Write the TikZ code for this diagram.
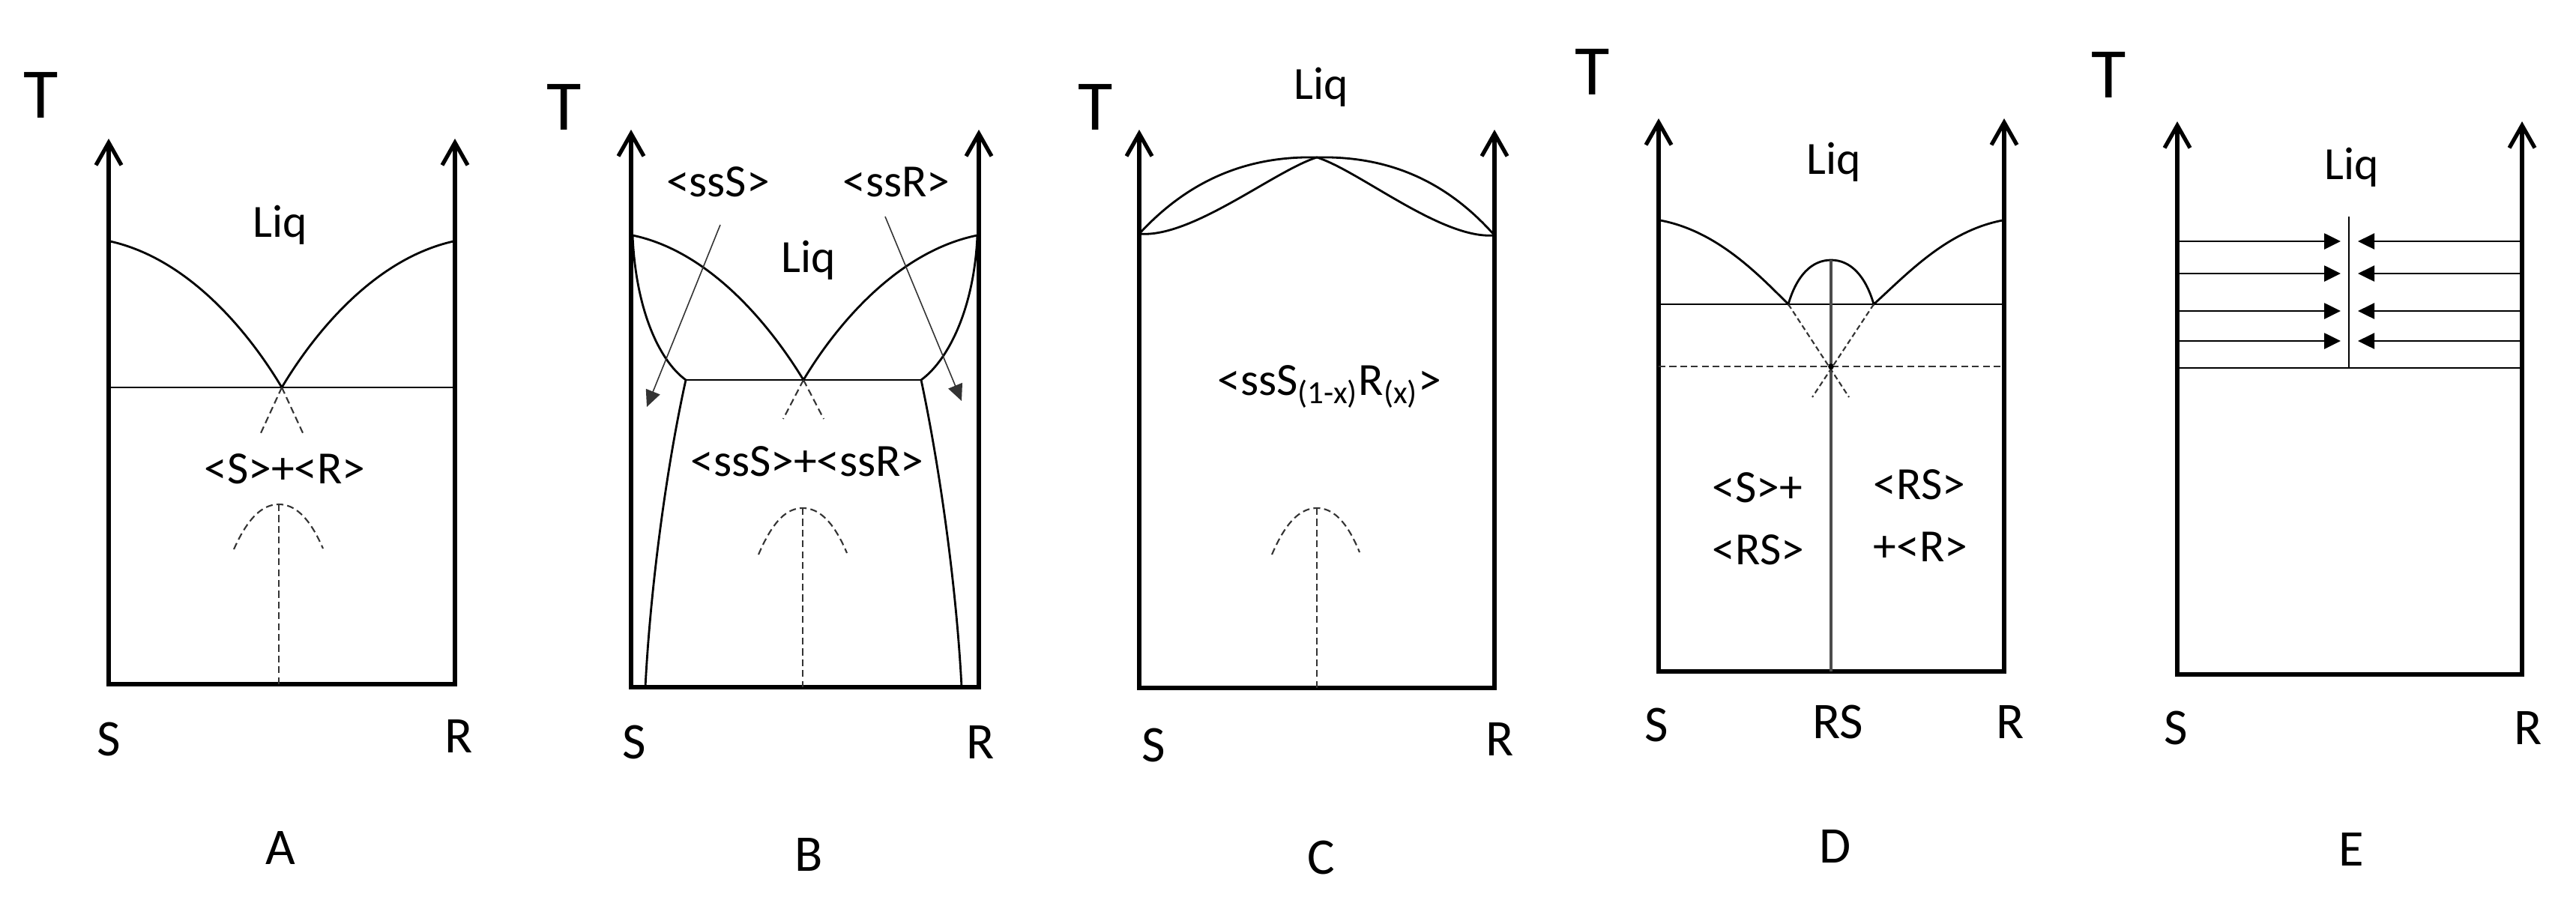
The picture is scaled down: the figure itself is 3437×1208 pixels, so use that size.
\documentclass[tikz,border=0pt]{standalone}
\usepackage{fontspec}
\setmainfont{Carlito}
\usetikzlibrary{arrows.meta}
\tikzset{
  axis/.style={line width=1.5pt, line join=miter, {Straight Barb[length=3mm,width=3.4mm]}-{Straight Barb[length=3mm,width=3.4mm]}},
  curve/.style={line width=0.8pt},
  thinline/.style={line width=0.7pt},
  dashline/.style={line width=0.6pt, black!80, dash pattern=on 2.6pt off 1.5pt},
  ptrarrow/.style={-{Triangle[length=2.2mm,width=2mm]}, line width=0.45pt, black!80},
  flowarrow/.style={-{Triangle[length=2.2mm,width=2.1mm]}, line width=0.75pt},
  tlbl/.style={inner sep=0, font=\fontsize{27}{32}\selectfont},
  axlbl/.style={inner sep=0, font=\fontsize{19.5}{23}\selectfont},
  phase/.style={inner sep=0, font=\fontsize{17.5}{23.5}\selectfont},
  dot/.style={circle, fill=black, inner sep=0, minimum size=2.2pt}
}

\begin{document}
\begin{tikzpicture}[x=0.01cm, y=-0.01cm]
  \useasboundingbox (0,0) rectangle (3437,1208);

  % A: simple eutectic
  \coordinate (aTL) at (145,185);
  \coordinate (aBL) at (145,913);
  \coordinate (aBR) at (607,913);
  \coordinate (aTR) at (607,185);
  \coordinate (aEu) at (376,517);
  \coordinate (aAr) at (372,673);
  \draw[axis] (aTL) -- (aBL) -- (aBR) -- (aTR);
  \draw[thinline] (aBL |- aEu) -- (aBR |- aEu);
  \draw[curve] (147,322) .. controls (250,345) and (330,440) .. (aEu) .. controls (422,440) and (502,345) .. (605,322);
  \draw[dashline] (aEu) -- (347,580) (aEu) -- (406,582);
  \draw[dashline] (312,733) .. controls (332,688) and (352,673) .. (aAr) .. controls (392,673) and (412,688) .. (431,732);
  \draw[dashline] (aAr) -- (aAr |- aBL);
  \node[tlbl] (aT) at (55,127) {T};
  \node[phase] (aLiq) at (374,300) {Liq};
  \node[phase] (aMix) at (380,626) {<S>+<R>};
  \node[axlbl] (aS) at (145,986) {S};
  \node[axlbl] (aR) at (612,982) {R};
  \node[axlbl] (aName) at (374,1131) {A};

  % B: eutectic with terminal solid solutions
  \coordinate (bTL) at (842,173);
  \coordinate (bBL) at (842,917);
  \coordinate (bBR) at (1306,917);
  \coordinate (bTR) at (1306,173);
  \coordinate (bEu) at (1072,507);
  \coordinate (bSl) at (915,507);
  \coordinate (bSr) at (1229,507);
  \coordinate (bML) at (844,314);
  \coordinate (bMR) at (1304,314);
  \coordinate (bAr) at (1071,678);
  \draw[axis] (bTL) -- (bBL) -- (bBR) -- (bTR);
  \draw[thinline] (bSl) -- (bSr);
  \draw[curve] (bML) .. controls (945,335) and (1025,430) .. (bEu) .. controls (1118,430) and (1200,335) .. (bMR);
  \draw[curve] (bML) .. controls (848,410) and (878,480) .. (bSl) .. controls (890,620) and (868,780) .. (861,917);
  \draw[curve] (bMR) .. controls (1300,410) and (1266,480) .. (bSr) .. controls (1253,620) and (1276,780) .. (1283,917);
  \draw[dashline] (bEu) -- (1045,559) (bEu) -- (1099,559);
  \draw[dashline] (1012,740) .. controls (1032,693) and (1051,678) .. (bAr) .. controls (1091,678) and (1111,693) .. (1130,738);
  \draw[dashline] (bAr) -- (bAr |- bBL);
  \node[tlbl] (bT) at (753,143) {T};
  \node[phase] (bssS) at (958,243) {<ssS>};
  \node[phase] (bssR) at (1196,243) {<ssR>};
  \node[phase] (bLiq) at (1079,347) {Liq};
  \node[phase] (bMix) at (1077,616) {<ssS>+<ssR>};
  \draw[ptrarrow] (961,300) -- (863,543);
  \draw[ptrarrow] (1181,289) -- (1283,535);
  \node[axlbl] (bS) at (846,990) {S};
  \node[axlbl] (bR) at (1308,990) {R};
  \node[axlbl] (bName) at (1079,1140) {B};

  % C: complete solid solution
  \coordinate (cTL) at (1520,173);
  \coordinate (cBL) at (1520,918);
  \coordinate (cBR) at (1994,918);
  \coordinate (cTR) at (1994,173);
  \coordinate (cML) at (1520,312);
  \coordinate (cMR) at (1994,314);
  \coordinate (cTop) at (1757,210);
  \coordinate (cAr) at (1757,678);
  \draw[axis] (cTL) -- (cBL) -- (cBR) -- (cTR);
  \draw[curve] (cML) .. controls (1590,236) and (1670,208) .. (cTop) .. controls (1845,208) and (1925,236) .. (cMR);
  \draw[curve] (cML) .. controls (1590,318) and (1700,228) .. (cTop) .. controls (1814,228) and (1924,320) .. (cMR);
  \draw[dashline] (1697,740) .. controls (1717,693) and (1737,678) .. (cAr) .. controls (1777,678) and (1796,693) .. (1814,737);
  \draw[dashline] (cAr) -- (cAr |- cBL);
  \node[tlbl] (cT) at (1462,143) {T};
  \node[phase] (cLiq) at (1763,116) {Liq};
  \node[phase] (cSol) at (1774,516) {<ssS\textsubscript{(1-x)}R\textsubscript{(x)}>};
  \node[axlbl] (cS) at (1539,994) {S};
  \node[axlbl] (cR) at (2001,986) {R};
  \node[axlbl] (cName) at (1763,1144) {C};

  % D: racemic compound
  \coordinate (dTL) at (2213,158);
  \coordinate (dBL) at (2213,896);
  \coordinate (dBR) at (2674,896);
  \coordinate (dTR) at (2674,158);
  \coordinate (dML) at (2215,294);
  \coordinate (dMR) at (2672,294);
  \coordinate (dL) at (2386,406);
  \coordinate (dR) at (2500,406);
  \coordinate (dTop) at (2443,347);
  \draw[axis] (dTL) -- (dBL) -- (dBR) -- (dTR);
  \draw[thinline] (dBL |- dL) -- (dBR |- dL);
  \draw[dashline] (dBL |- 0,489) -- (dBR |- 0,489);
  \draw[curve] (dML) .. controls (2290,308) and (2345,365) .. (dL) .. controls (2397,368) and (2417,347) .. (dTop) .. controls (2469,347) and (2489,368) .. (dR) .. controls (2545,365) and (2598,308) .. (dMR);
  \draw[line width=1pt, black!70] (dTop) -- (dTop |- dBL);
  \draw[dashline, dash pattern=on 2pt off 1.2pt] (dL) -- (2467,530) (dR) -- (2418,530);
  \node[dot] (dX) at (2443,489) {};
  \node[tlbl] (dT) at (2125,96) {T};
  \node[phase] (dLiq) at (2447,216) {Liq};
  \node[phase, align=left, anchor=west] (dLeft) at (2284,692) {<S>+\\<RS>};
  \node[phase, align=left, anchor=west] (dRight) at (2499,688) {<RS>\\+<R>};
  \node[axlbl] (dS) at (2210,967) {S};
  \node[axlbl] (dRS) at (2452,963) {RS};
  \node[axlbl] (dR2) at (2682,963) {R};
  \node[axlbl] (dName) at (2449,1129) {D};

  % E
  \coordinate (eTL) at (2905,162);
  \coordinate (eBL) at (2905,900);
  \coordinate (eBR) at (3365,900);
  \coordinate (eTR) at (3365,162);
  \coordinate (eTop) at (3134,289);
  \coordinate (eBot) at (3134,491);
  \draw[axis] (eTL) -- (eBL) -- (eBR) -- (eTR);
  \draw[thinline] (eBL |- eBot) -- (eBR |- eBot);
  \draw[curve] (eTop) -- (eBot);
  \foreach \y in {322,365,415,455} {
    \draw[flowarrow] (eBL |- 0,\y) -- (3123,\y);
    \draw[flowarrow] (eBR |- 0,\y) -- (3146,\y);
  }
  \node[tlbl] (eT) at (2814,100) {T};
  \node[phase] (eLiq) at (3138,223) {Liq};
  \node[axlbl] (eS) at (2903,971) {S};
  \node[axlbl] (eR) at (3373,971) {R};
  \node[axlbl] (eName) at (3137,1133) {E};
\end{tikzpicture}
\end{document}
